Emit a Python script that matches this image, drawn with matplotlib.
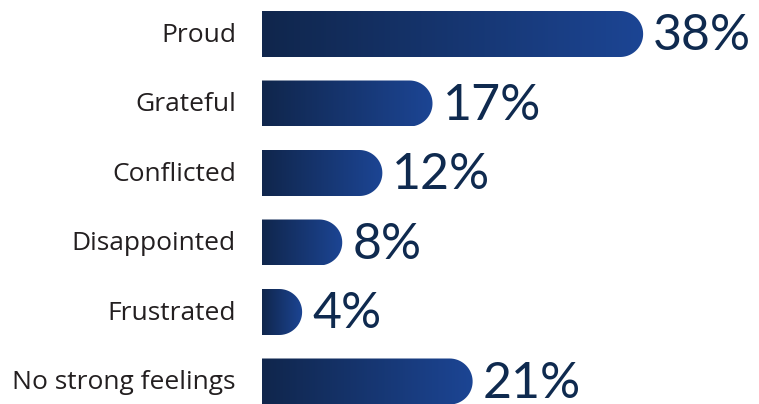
import numpy as np
import matplotlib.pyplot as plt
from matplotlib.path import Path
from matplotlib.patches import PathPatch
from matplotlib.colors import LinearSegmentedColormap

categories = ['Proud', 'Grateful', 'Conflicted', 'Disappointed', 'Frustrated', 'No strong feelings']
values = [38, 17, 12, 8, 4, 21]
value_labels = ['38%', '17%', '12%', '8%', '4%', '21%']

W, H = 759, 404
fig = plt.figure(figsize=(W / 100, H / 100), dpi=100)

# axes: x=0 at pixel 262, ~10.03 px per percent; bar rows every 69.5 px starting at 34 px
px_per_pct = 10.03
row_px = 69.5
first_px = 34
left_px = 262
ax = fig.add_axes([left_px / W, 0, 1 - left_px / W, 1])
ax.set_xlim(0, (W - left_px) / px_per_pct)
ax.set_ylim((H - first_px) / row_px, -first_px / row_px)
ax.axis('off')

bar_h = 46 / row_px
rx = (46 / 2) / px_per_pct  # radius of the rounded end in x units
ry = bar_h / 2

cmap = LinearSegmentedColormap.from_list('navy', ['#10264c', '#1c4594'])
grad = np.linspace(0, 1, 256).reshape(1, -1)

for i, (v, lab) in enumerate(zip(values, value_labels)):
    y0, y1 = i - ry, i + ry
    xs = max(v - rx, 0)
    # square left end, half-round right end
    t = np.linspace(-np.pi / 2, np.pi / 2, 40)
    verts = [(0, y0), (xs, y0)] + [(xs + rx * np.cos(a), i + ry * np.sin(a)) for a in t] + [(0, y1), (0, y0)]
    codes = [Path.MOVETO] + [Path.LINETO] * (len(verts) - 2) + [Path.CLOSEPOLY]
    clip = PathPatch(Path(verts, codes), facecolor='none', edgecolor='none', transform=ax.transData)
    ax.add_patch(clip)
    im = ax.imshow(grad, cmap=cmap, aspect='auto', extent=(0, v, y1, y0), interpolation='bicubic', zorder=2)
    im.set_clip_path(clip)
    ax.text(v + 1.0, i + 0.03, lab, ha='left', va='center', fontsize=36,
            color='#0f2a4f', family='Lato')
    ax.text(-26 / px_per_pct, i + 0.02, categories[i], ha='right', va='center', fontsize=19,
            color='#231f20', family='Open Sans')

fig.savefig('out.png', dpi=100)
